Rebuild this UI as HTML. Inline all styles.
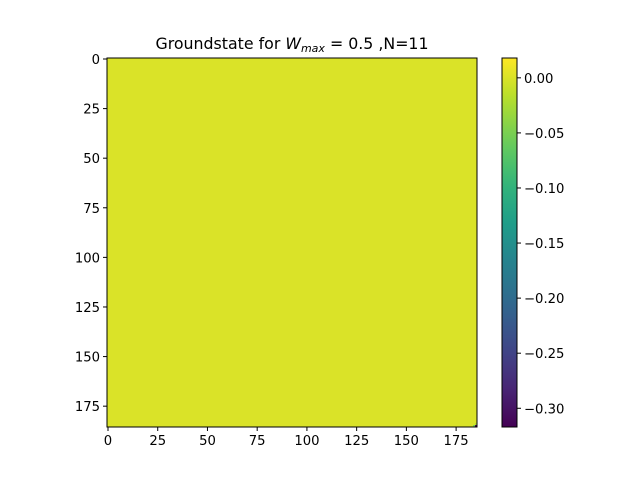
<!DOCTYPE html>
<html><head><meta charset="utf-8"><style>
body{margin:0;background:#fff}
svg{display:block;font-family:"DejaVu Sans","Liberation Sans",sans-serif}
</style></head><body>
<svg id="c" width="640" height="480"></svg>
<script>
const gridN = 186;
const baseValue = 0.0;
const cellRows = [185, 185, 184];
const cellCols = [185, 184, 185];
const cellValues = [-0.317, -0.05, -0.02];
const xTicks = [0, 25, 50, 75, 100, 125, 150, 175];
const yTicks = [0, 25, 50, 75, 100, 125, 150, 175];
const cbTicks = [0.00, -0.05, -0.10, -0.15, -0.20, -0.25, -0.30];
const vmin = -0.317, vmax = 0.018;

const NS = "http://www.w3.org/2000/svg";
const svg = document.getElementById('c');
function mk(t, a, p) { const e = document.createElementNS(NS, t); for (const k in a) e.setAttribute(k, a[k]); (p || svg).appendChild(e); return e; }
const L = 107, T = 58, W = 370, H = 369;
const FS = 13.2;
const xs = v => L + (v + 0.5) / gridN * W;
const ys = v => T + (v + 0.5) / gridN * H;
const stops = [[68,1,84],[72,40,120],[62,74,137],[49,104,142],[38,130,142],[31,158,137],[53,183,121],[109,205,89],[180,222,44],[253,231,37]];
function viridis(v) {
  let t = Math.max(0, Math.min(1, (v - vmin) / (vmax - vmin))) * (stops.length - 1);
  const i = Math.min(stops.length - 2, Math.floor(t)), f = t - i;
  const c = stops[i].map((x, k) => Math.round(x + (stops[i + 1][k] - x) * f));
  return `rgb(${c[0]},${c[1]},${c[2]})`;
}
const bg = mk('rect', {x: L, y: T, width: W, height: H, fill: viridis(baseValue)});


cellValues.forEach((v, i) => {
  const r = mk('rect', {x: xs(cellCols[i] - 0.5), y: ys(cellRows[i] - 0.5), width: W / gridN, height: H / gridN, fill: viridis(v)});
  
  
});
const fr = mk('rect', {x: L, y: T, width: W, height: H, fill: 'none', stroke: '#000', 'stroke-width': 1});


xTicks.forEach(t => {
  const x = xs(t);
  mk('line', {x1: x, x2: x, y1: T + H, y2: T + H + 4, stroke: '#000'});
  const tx = mk('text', {x: x, y: T + H + 18, 'text-anchor': 'middle', 'font-size': FS});
  tx.textContent = t;
  
  
});
yTicks.forEach(t => {
  const y = ys(t);
  mk('line', {x1: L - 4, x2: L, y1: y, y2: y, stroke: '#000'});
  const tx = mk('text', {x: L - 7, y: y + 5, 'text-anchor': 'end', 'font-size': FS});
  tx.textContent = t;
  
  
});
const CL = 502, CW = 15;
const cy = v => T + (vmax - v) / (vmax - vmin) * H;
const defs = mk('defs', {});
const g = mk('linearGradient', {id: 'vg', x1: 0, y1: 1, x2: 0, y2: 0}, defs);
for (let i = 0; i <= 20; i++) mk('stop', {offset: i / 20, 'stop-color': viridis(vmin + (vmax - vmin) * i / 20)}, g);
const cb = mk('rect', {x: CL, y: T, width: CW, height: H, fill: 'url(#vg)', stroke: '#000', 'stroke-width': 1});


cbTicks.forEach(t => {
  const y = cy(t);
  mk('line', {x1: CL + CW, x2: CL + CW + 4, y1: y, y2: y, stroke: '#000'});
  const tx = mk('text', {x: CL + CW + 7, y: y + 5, 'font-size': FS});
  tx.textContent = (t < 0 ? '\u2212' : '') + Math.abs(t).toFixed(2);
  
  
});
</script>
<svg style="position:absolute;left:0;top:0" width="640" height="60">
<text x="292" y="49" text-anchor="middle" font-size="15.8" font-family="DejaVu Sans, Liberation Sans, sans-serif">Groundstate for <tspan font-style="italic">W</tspan><tspan font-style="italic" font-size="11" dy="3">max</tspan><tspan dy="-3"> = 0.5 ,N=11</tspan></text>
</svg>
</body></html>
